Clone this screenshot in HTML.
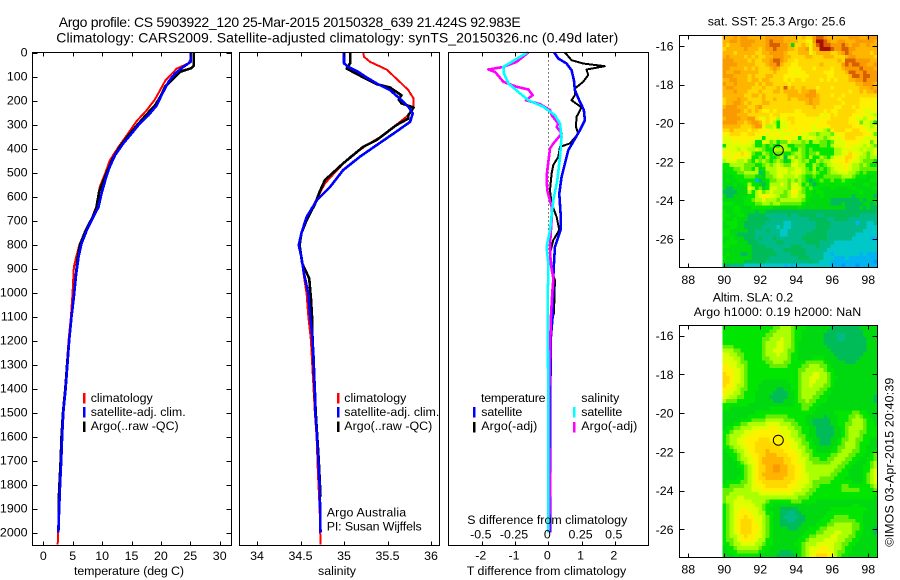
<!DOCTYPE html>
<html lang="en">
<head>
<meta charset="utf-8">
<title>Argo profile CS 5903922_120</title>
<style>
html,body{margin:0;padding:0;background:#fff;}
#chart{display:block;width:900px;height:580px;background:#fff;}
text{font-family:"Liberation Sans",sans-serif;font-size:12.4px;fill:#000;}
.ttl{font-size:14px;}
.mark{shape-rendering:crispEdges;}
</style>
</head>
<body>
<svg id="chart" xmlns="http://www.w3.org/2000/svg" width="900" height="580" viewBox="0 0 900 580">
  <text class="ttl" x="58.7" y="27" textLength="462">Argo profile: CS 5903922_120 25-Mar-2015 20150328_639 21.424S 92.983E</text>
  <text class="ttl" x="56.3" y="42.5" textLength="562">Climatology: CARS2009. Satellite-adjusted climatology: synTS_20150326.nc (0.49d later)</text>

  <g id="layer-maps"></g>
  <g id="layer-panels"></g>
  <g id="layer-axes"></g>

  <text x="74" y="575" textLength="110">temperature (deg C)</text>
  <text x="318" y="575" textLength="38">salinity</text>
  <text x="466.7" y="575" textLength="159.5">T difference from climatology</text>
  <text x="467.3" y="524" textLength="160">S difference from climatology</text>

  <g>
    <rect class="mark" x="83" y="393" width="2.5" height="10.5" fill="#ff0000"/>
    <rect class="mark" x="83" y="407" width="2.5" height="10.5" fill="#0000ff"/>
    <rect class="mark" x="83" y="421.5" width="2.5" height="10.5" fill="#000000"/>
    <text x="90.7" y="402" textLength="62">climatology</text>
    <text x="90.7" y="416" textLength="95">satellite-adj. clim.</text>
    <text x="90.7" y="430" textLength="88">Argo(..raw -QC)</text>
  </g>
  <g>
    <rect class="mark" x="337" y="393" width="2.5" height="10.5" fill="#ff0000"/>
    <rect class="mark" x="337" y="407" width="2.5" height="10.5" fill="#0000ff"/>
    <rect class="mark" x="337" y="421.5" width="2.5" height="10.5" fill="#000000"/>
    <text x="344.3" y="402" textLength="62">climatology</text>
    <text x="344.3" y="416" textLength="95">satellite-adj. clim.</text>
    <text x="344.3" y="430" textLength="88">Argo(..raw -QC)</text>
  </g>
  <text x="326.7" y="516.7" textLength="79.5">Argo Australia</text>
  <text x="326.7" y="530.7" textLength="95">PI: Susan Wijffels</text>

  <g>
    <text x="481" y="402" textLength="64.5">temperature</text>
    <text x="481.3" y="416" textLength="41">satellite</text>
    <text x="481.3" y="430" textLength="56">Argo(-adj)</text>
    <rect class="mark" x="473" y="407" width="2.5" height="10.5" fill="#0000ff"/>
    <rect class="mark" x="473" y="422" width="2.5" height="10.5" fill="#000000"/>
    <text x="581.3" y="402" textLength="38">salinity</text>
    <text x="581.3" y="416" textLength="41">satellite</text>
    <text x="581.3" y="430" textLength="56">Argo(-adj)</text>
    <rect class="mark" x="573" y="407" width="2.5" height="10.5" fill="#00ffff"/>
    <rect class="mark" x="573" y="422" width="2.5" height="10.5" fill="#ff00ff"/>
  </g>

  <text x="707.7" y="25.7" textLength="138">sat. SST: 25.3 Argo: 25.6</text>
  <text x="712.7" y="301.7" textLength="80.5">Altim. SLA: 0.2</text>
  <text x="693.7" y="316" textLength="167.5">Argo h1000: 0.19 h2000: NaN</text>
  <text transform="translate(893.5 546.7) rotate(-90)" x="0" y="0" textLength="169">©IMOS 03-Apr-2015 20:40:39</text>
</svg>

<script>
// ---- axis tick data ----
const depthTicks = [0,100,200,300,400,500,600,700,800,900,1000,1100,1200,1300,1400,1500,1600,1700,1800,1900,2000];
const temperatureTicks = [0,5,10,15,20,25,30];
const salinityTicks = [34,34.5,35,35.5,36];
const salinityTickLabels = ['34','34.5','35','35.5','36'];
const tDiffTicks = [-2,-1,0,1,2];
const sDiffTickLabels = ['-0.5','-0.25','0','0.25','0.5'];
const sDiffTicks = [-0.5,-0.25,0,0.25,0.5];
const lonTicks = [88,90,92,94,96,98];
const latTicks = [-16,-18,-20,-22,-24,-26];

// ---- temperature profile (deg C) ----
const tClimDepth = [0,30,45,67,95,115,155,195,240,285,345,393,450,505,560,643,726,796,851,893,990,1030,1100,1200,1300,1400,1500,1600,1700,1800,1900,2000,2050];
const tClimValue = [25.0,25.0,24.7,22.7,21.6,20.8,19.9,19.0,17.6,15.9,14.2,12.8,11.3,10.5,9.6,9.0,7.7,6.2,5.6,5.2,5.0,4.9,4.7,4.3,4.0,3.7,3.3,3.1,2.95,2.75,2.65,2.5,2.45];
const tSatDepth = [0,39,60,88,122,178,220,261,296,338,379,428,476,518,588,643,685,740,796,851,921,1018,1100,1200,1300,1400,1500,1600,1700,1800,1900,2000];
const tSatValue = [25.07,25.07,23.8,22.4,21.3,20.1,19.3,17.9,16.4,15.0,13.6,12.2,11.3,10.7,9.9,9.4,8.5,7.4,6.5,6.0,5.6,5.2,4.8,4.4,4.1,3.8,3.4,3.2,3.05,2.85,2.7,2.55];
const tArgoDepth = [0,55,65,80,108,143,185,220,257,296,345,393,442,505,580,650,685,747,803,865,962,1018,1100,1200,1300,1400,1500,1600,1700,1800,1850,1990];
const tArgoValue = [25.6,25.6,25.2,23.3,22.1,20.7,19.9,19.0,17.6,16.2,14.5,13.0,11.8,10.7,9.5,9.0,8.4,7.1,6.2,5.8,5.4,5.2,4.8,4.4,4.05,3.75,3.35,3.1,2.95,2.75,2.65,2.6];

// ---- salinity profile (PSU) ----
const sClimDepth = [0,18,39,71,122,157,192,226,261,296,345,386,435,490,546,622,692,754,803,851,935,1004,1100,1200,1400,1500,1600,1750,1900,2050];
const sClimValue = [35.22,35.23,35.3,35.49,35.64,35.74,35.8,35.8,35.74,35.62,35.45,35.26,35.07,34.92,34.78,34.67,34.57,34.51,34.48,34.51,34.54,34.57,34.59,34.62,34.65,34.665,34.685,34.7,34.72,34.73];
const sSatDepth = [0,45,60,80,104,129,157,192,226,254,289,330,386,435,490,560,615,685,754,803,851,921,1004,1053,1115,1157,1253,1365,1448,1500,1600,1700,1800,1900,2000];
const sSatValue = [35.0,35.0,35.05,35.16,35.26,35.375,35.53,35.64,35.74,35.79,35.76,35.6,35.375,35.18,34.99,34.84,34.69,34.57,34.51,34.48,34.51,34.54,34.59,34.60,34.615,34.63,34.648,34.66,34.67,34.67,34.69,34.705,34.72,34.725,34.73];
const sArgoDepth = [0,45,67,90,115,132,146,178,196,212,229,261,275,303,365,393,462,532,580,629,699,754,803,879,941,1025,1115,1157,1300,1500,1700,1850];
const sArgoValue = [35.07,35.07,35.03,35.15,35.28,35.375,35.53,35.66,35.63,35.66,35.8,35.74,35.74,35.6,35.375,35.22,34.99,34.78,34.72,34.67,34.57,34.51,34.49,34.52,34.60,34.62,34.635,34.635,34.65,34.675,34.71,34.73];

// ---- difference from climatology ----
const dtSatDepth = [0,25,46,74,115,157,199,240,282,324,372,407,463,518,588,671,740,810,879,935,1100,1200,1500,1700,2000];
const dtSatValue = [0.18,0.30,0.55,0.70,0.77,0.80,0.93,1.07,1.10,0.95,0.75,0.60,0.50,0.40,0.33,0.37,0.37,0.20,0.17,0.15,0.13,0.07,0.06,0.06,0.05];
const dtArgoDepth = [0,32,46,57,71,94,122,150,178,199,219,229,268,310,338,379,393,435,469,504,574,629,685,740,782,838,907,949,1087,1128,1300,1600,2000];
const dtArgoValue = [0.50,0.70,1.05,1.70,1.15,1.20,1.05,0.80,0.80,0.70,0.90,1.00,0.85,0.83,0.90,0.65,0.35,0.30,0.15,0.10,0.05,0.10,0.25,0.33,0.15,0.05,0.10,0.20,0.17,0.07,0.05,0.03,0.02];
const dsSatDepth = [0,39,60,88,129,164,199,226,261,296,351,435,532,615,740,810,879,942,1000,1500,2000];
const dsSatValue = [-0.158,-0.276,-0.338,-0.333,-0.30,-0.226,-0.15,-0.038,0.05,0.088,0.10,0.088,0.068,0.038,0.013,-0.013,0,0,-0.005,0,0];
const dsArgoDepth = [0,39,60,71,81,122,143,154,178,199,215,240,261,296,310,338,379,400,456,518,574,643,699,754,810,879,942,1000,1100,1200,1500,1700,1800,2000];
const dsArgoValue = [-0.15,-0.238,-0.338,-0.451,-0.40,-0.338,-0.238,-0.15,-0.118,-0.168,-0.063,0.013,0.025,0.075,0.063,0.10,0.038,0.013,0,-0.013,-0.008,0.025,0.025,0.018,0.013,0.018,0.038,0.03,0.02,0.015,0.005,0.01,0.015,0.005];

// ---- colour scale shared by both maps, index = level ----
const levelColors = ['#0098ff','#00b4f0','#00c8c8','#00bb88','#00bc58','#00d810','#00e600','#66ee00','#aaff00','#ddff00','#fff000','#ffd800','#ffb400','#f89a00','#d85f00','#aa1000'];

// ---- satellite SST levels, north to south, 0.2 deg cells from 90E ----
const sstLevels = [
[12,12,12,13,12,13,13,12,12,12,12,12,13,13,13,13,13,12,12,12,12,11,12,11,11,13,14,14,13,12,12,12,12,12,12,13,13,13,12,12,13,13,13],
[12,12,13,13,12,13,13,13,13,12,12,12,13,14,13,13,13,12,12,12,12,11,11,10,10,13,15,15,14,13,12,12,13,13,12,12,12,13,13,13,13,13,12],
[12,11,12,12,12,13,13,13,12,12,12,12,13,14,14,14,13,13,12,5,11,11,12,11,9,12,14,15,14,14,13,13,13,14,13,12,13,13,12,12,13,12,12],
[11,12,12,12,12,12,13,12,12,12,11,12,13,13,14,13,13,13,12,12,11,12,12,13,10,12,12,15,15,15,14,13,13,14,14,13,13,12,12,12,12,12,12],
[12,12,12,11,12,12,12,12,12,11,11,12,12,13,13,13,13,12,11,11,11,12,12,12,9,11,12,12,12,12,11,11,12,13,14,13,12,12,12,12,12,11,12],
[12,13,12,12,12,12,11,12,11,12,11,11,12,12,13,13,13,12,12,11,11,11,11,12,12,11,11,11,12,12,12,11,11,11,12,13,13,12,12,12,12,12,11],
[13,13,13,12,12,12,12,11,12,11,11,12,12,13,14,14,13,12,11,11,10,11,11,11,11,11,11,11,11,11,11,11,12,11,14,14,14,13,13,13,13,12,12],
[13,13,13,13,12,12,12,12,12,11,11,11,12,13,13,14,12,11,11,10,10,11,11,11,11,11,11,12,11,11,11,11,11,13,14,13,14,14,13,13,12,12,13],
[13,13,12,12,12,12,11,12,11,12,11,11,11,12,13,12,11,11,10,10,10,10,11,11,11,10,11,11,11,11,10,11,11,12,13,13,13,13,14,13,13,13,12],
[13,12,12,13,13,12,12,12,12,12,11,11,11,11,12,11,11,11,10,10,9,10,10,11,11,11,11,11,10,10,10,11,11,11,12,14,14,13,13,14,13,13,13],
[13,13,13,12,12,12,12,11,12,11,11,11,12,12,11,11,11,10,10,10,10,10,10,10,11,11,11,11,11,10,10,11,11,11,11,12,14,14,13,14,14,13,13],
[12,12,13,13,12,12,12,11,12,12,11,12,12,11,11,11,11,10,11,10,11,11,10,11,11,11,11,10,11,10,11,10,11,11,11,12,12,13,13,14,13,13,13],
[13,12,12,13,12,12,12,12,12,11,12,11,12,12,11,11,11,11,10,11,11,11,11,11,11,11,11,11,11,11,11,11,11,11,11,11,11,12,12,13,13,13,12],
[12,13,13,12,12,12,12,12,11,11,11,12,11,11,11,12,11,14,11,12,11,11,12,11,11,11,10,11,11,11,10,11,11,11,11,11,11,11,12,12,12,13,12],
[12,12,12,13,12,12,12,11,11,11,12,11,11,11,12,12,11,12,12,12,12,11,12,12,13,13,11,11,11,11,11,11,11,11,11,10,11,11,12,11,12,12,13],
[12,12,12,12,12,12,11,11,12,12,11,12,11,11,11,11,11,11,12,12,12,12,12,13,13,13,12,11,11,11,10,11,11,10,11,11,11,11,11,11,11,11,11],
[11,12,12,12,13,12,12,11,11,11,11,12,11,11,12,11,11,11,12,11,11,12,12,12,13,12,12,11,11,11,11,11,10,11,11,11,11,11,10,10,10,10,10],
[11,12,12,13,13,12,11,12,11,11,11,12,12,11,11,11,11,11,11,11,11,11,11,12,13,12,12,11,11,11,11,11,11,10,11,11,11,11,10,10,10,10,9],
[12,13,13,13,12,12,12,11,11,12,13,11,11,11,11,11,11,11,11,11,11,11,11,11,11,12,11,11,11,11,11,10,10,11,11,11,10,11,10,10,10,10,10],
[13,13,13,13,13,12,11,12,11,12,11,10,10,11,10,11,11,11,11,11,10,10,11,11,11,11,11,11,10,11,10,10,11,11,11,11,11,10,10,9,9,9,10],
[13,13,13,13,12,12,12,11,11,11,11,11,11,10,11,11,10,10,10,10,10,10,10,11,11,11,11,10,9,10,11,10,11,11,11,11,10,10,10,10,9,9,8],
[12,13,13,13,13,12,12,13,13,11,10,9,11,10,10,8,10,10,11,11,10,10,10,10,10,10,9,10,10,10,11,11,11,11,11,10,10,9,9,8,9,10,9],
[13,13,13,13,12,12,11,12,13,13,12,10,11,10,8,6,9,9,10,11,10,10,10,10,10,10,10,10,10,11,11,11,11,11,11,10,10,10,7,9,9,8,6],
[12,12,12,12,12,11,11,11,12,13,13,10,8,8,9,6,9,9,10,10,10,10,10,10,10,9,10,10,10,10,11,11,11,11,11,11,10,10,10,9,9,8,9],
[11,11,12,11,11,11,11,10,11,11,10,10,10,9,9,9,9,10,10,10,10,10,10,10,10,9,9,9,8,7,10,11,11,11,10,10,11,11,10,10,9,9,9],
[10,10,11,11,11,10,10,11,11,10,10,10,9,10,10,10,9,9,9,10,10,10,9,9,8,8,7,8,8,8,7,9,10,10,11,11,11,11,11,10,10,9,7],
[9,9,10,10,10,10,10,10,10,9,9,6,9,9,9,9,9,10,10,9,9,6,9,9,9,9,8,8,7,8,9,9,9,10,11,11,11,10,10,9,9,9,9],
[9,9,9,10,9,10,10,9,9,6,6,9,9,7,8,6,7,7,9,8,8,8,7,8,6,8,8,7,7,6,7,9,9,9,10,10,10,10,9,9,9,7,9],
[6,9,9,9,9,9,9,9,8,6,6,7,6,7,6,6,8,8,6,6,7,7,7,6,6,6,6,7,7,6,8,9,9,9,10,10,9,9,9,8,9,8,7],
[9,9,9,9,8,9,9,8,8,9,8,7,6,6,8,8,8,8,8,6,6,8,7,6,7,6,6,6,6,6,6,8,8,9,9,9,9,9,8,9,8,8,9],
[10,10,9,9,10,11,10,9,7,6,6,8,7,6,7,7,7,6,6,7,8,8,7,6,7,7,8,6,6,6,6,8,8,9,10,11,10,9,9,8,7,8,9],
[9,9,10,10,10,9,9,9,6,6,7,6,8,6,6,7,8,4,8,9,7,8,7,6,8,6,6,8,7,6,8,9,9,10,11,11,10,9,8,8,7,8,8],
[8,9,9,9,8,8,9,7,6,8,7,8,7,6,7,8,7,5,6,8,9,8,7,8,6,6,8,7,8,8,9,10,10,10,11,10,9,9,8,7,7,7,6],
[6,6,8,8,8,8,7,7,7,6,6,7,8,7,8,9,8,7,7,9,9,8,8,6,6,8,7,6,7,8,9,9,9,10,10,9,8,8,7,8,7,6,6],
[6,6,6,7,7,8,7,7,6,8,5,6,8,8,8,9,9,9,8,8,9,9,8,7,6,8,6,7,6,7,8,9,9,9,10,9,8,8,7,7,7,7,7],
[5,6,6,6,7,7,8,8,8,8,3,5,7,8,8,9,9,9,8,9,9,9,8,7,7,8,7,6,6,7,8,8,9,9,9,8,8,7,6,7,6,6,6],
[5,5,5,6,6,6,7,7,7,6,6,5,7,7,8,9,9,8,8,8,9,8,7,6,6,7,6,6,7,7,7,7,7,8,8,8,7,6,6,6,5,5,6],
[5,6,5,5,6,6,6,6,6,1,4,5,6,7,7,8,8,8,7,8,7,8,7,6,4,5,6,7,6,6,7,6,6,7,6,6,6,5,5,5,5,6,6],
[5,5,5,6,5,5,6,8,6,6,5,4,6,8,8,8,9,8,7,9,9,8,6,7,6,4,5,6,6,6,5,6,6,6,6,6,5,5,5,6,6,5,5],
[5,4,4,5,5,5,5,9,8,6,7,5,6,9,9,8,8,8,7,9,9,9,7,6,7,6,6,5,5,5,6,5,5,5,5,5,6,5,5,5,5,5,6],
[4,4,4,4,5,5,5,8,6,8,9,7,8,9,8,8,8,7,8,10,10,8,7,6,6,5,6,6,5,5,5,5,5,5,5,5,5,5,6,5,5,5,5],
[5,4,4,5,5,5,5,6,6,8,9,10,10,9,9,8,7,7,8,9,9,8,8,6,6,5,5,6,5,5,5,5,5,5,5,5,4,5,5,5,5,5,4],
[5,5,5,5,5,5,6,6,7,8,8,9,8,8,8,7,8,8,8,8,8,8,7,6,5,5,5,5,5,5,4,4,4,4,4,4,4,4,5,4,5,5,5],
[6,6,6,5,5,5,6,6,6,7,7,8,8,7,8,8,7,7,7,7,7,7,6,5,5,5,5,5,5,5,4,4,4,5,4,4,4,4,4,5,5,4,5],
[5,5,5,6,6,5,5,5,6,6,6,6,6,6,5,5,5,5,5,5,5,6,5,5,5,5,5,5,5,5,5,5,5,5,4,4,4,4,5,4,5,4,4],
[6,5,5,6,6,5,5,5,5,4,5,5,4,4,4,4,4,4,4,4,4,4,4,4,4,4,4,4,4,4,4,4,4,4,4,4,4,4,4,4,4,4,4],
[6,6,5,5,6,6,5,4,4,4,4,4,3,3,3,3,3,3,4,3,3,4,4,4,4,4,3,3,4,4,4,4,4,4,4,4,4,4,3,3,3,3,3],
[6,5,5,6,5,5,5,4,4,4,4,4,4,3,3,3,3,3,3,3,3,3,3,3,4,4,4,4,4,3,3,4,4,4,4,3,3,3,3,3,3,3,3],
[5,6,6,6,5,5,4,4,4,4,4,4,3,3,3,3,3,2,2,3,3,3,3,3,3,3,4,4,4,4,3,3,3,3,3,3,3,1,3,3,2,2,3],
[5,5,6,6,5,5,4,4,4,4,4,3,3,3,3,2,3,2,2,3,3,3,3,3,3,3,4,4,4,4,3,3,3,3,3,3,3,3,3,3,2,2,2],
[6,6,5,5,5,5,5,4,4,3,3,3,4,3,3,3,2,2,3,3,3,3,3,3,3,4,4,4,4,3,3,3,3,3,3,3,3,3,3,2,2,2,2],
[6,6,5,5,4,4,4,4,4,3,3,3,3,3,3,3,2,2,3,3,3,3,3,4,4,4,4,4,4,3,3,3,3,3,3,3,3,2,2,2,2,2,2],
[5,5,6,5,5,5,4,4,4,3,4,3,3,3,4,3,3,3,3,3,3,3,4,4,4,4,4,4,4,3,3,3,3,3,3,3,2,2,2,2,2,1,1],
[5,6,6,6,5,5,5,4,4,4,3,3,3,3,3,4,4,3,3,3,3,3,3,4,4,4,4,3,3,3,3,2,2,2,2,2,2,2,2,2,2,2,2],
[6,6,5,5,5,5,5,5,4,4,4,4,3,3,3,3,3,3,3,4,4,4,3,3,3,3,4,3,3,3,2,2,2,2,2,2,2,2,2,2,2,2,2],
[5,5,5,5,5,5,5,5,4,4,4,4,4,4,3,3,3,4,4,4,4,4,4,3,3,3,3,3,3,2,2,2,2,2,2,2,2,2,2,2,2,2,2],
[5,6,5,5,5,4,4,5,4,4,4,4,4,4,4,3,3,3,3,4,4,4,4,3,3,3,3,3,2,2,1,2,2,2,2,2,2,2,1,2,1,1,1],
[6,5,5,5,5,5,5,5,4,4,4,4,4,3,3,3,3,3,3,3,3,4,4,4,3,3,3,3,2,2,2,1,1,1,2,1,1,1,1,1,1,1,1],
[5,5,5,5,5,5,4,4,4,4,4,4,3,3,3,3,3,3,3,3,3,3,3,3,4,3,3,2,2,2,1,1,1,1,1,1,1,1,1,1,1,1,0],
[4,4,3,3,3,3,2,2,2,2,2,2,2,2,2,2,2,1,2,1,2,2,2,2,2,2,2,2,2,2,1,1,1,0,1,1,1,0,1,1,1,1,1]
];

// ---- altimetric SLA levels, north to south, 0.2 deg cells from 90E ----
const slaLevels = [
[6,6,6,6,6,6,6,6,6,6,6,6,6,6,7,7,8,8,8,7,6,6,6,5,5,5,5,5,5,5,4,4,4,4,4,4,4,4,5,5,5,5,5],
[6,6,6,6,6,6,6,6,6,6,6,6,6,7,7,8,8,8,8,7,6,6,5,5,5,5,5,5,5,4,4,4,4,4,4,4,4,4,4,5,5,5,5],
[6,6,6,6,6,6,6,6,6,6,6,6,7,7,8,8,8,8,8,7,6,6,5,5,5,5,5,5,4,4,4,4,3,3,4,4,4,4,4,5,5,5,5],
[6,6,6,6,6,6,6,6,6,6,6,7,7,8,8,8,9,8,8,7,6,6,5,5,5,5,5,5,4,4,4,4,3,3,4,4,4,4,4,4,5,5,5],
[6,6,6,6,6,6,6,6,6,6,6,7,8,8,8,9,9,8,8,7,6,5,5,5,5,5,5,5,4,4,4,4,4,4,4,4,4,4,4,4,5,5,5],
[7,7,7,6,6,6,6,6,6,6,6,7,8,8,8,9,9,8,8,7,6,5,5,5,5,5,5,5,5,4,4,4,4,4,4,4,4,4,4,4,5,5,5],
[8,8,8,7,7,6,6,6,6,6,6,7,8,8,9,9,9,8,7,7,6,5,5,5,5,5,5,5,5,5,4,4,4,4,4,4,4,4,4,4,5,5,5],
[9,9,8,8,7,7,6,6,6,6,6,7,8,8,8,9,8,8,7,6,6,5,5,5,5,5,5,5,5,5,5,4,4,4,4,4,4,4,4,5,5,5,5],
[9,9,9,8,8,7,6,6,6,6,6,7,7,8,8,8,8,8,7,6,6,5,5,5,5,6,6,6,5,5,5,5,4,4,4,4,4,4,5,5,5,5,5],
[9,9,9,9,8,7,7,6,6,6,6,6,7,7,8,8,8,7,7,6,6,6,6,7,7,7,7,7,6,5,5,5,5,5,4,4,4,5,5,5,5,5,5],
[10,10,9,9,8,8,7,6,6,6,6,6,6,7,7,7,7,7,6,6,6,6,7,7,8,8,8,7,7,6,5,5,5,5,5,5,5,5,5,5,5,5,5],
[10,10,10,9,9,8,7,6,6,6,6,6,6,6,6,6,6,6,6,6,6,7,7,8,8,8,8,8,7,6,6,5,5,5,5,5,5,5,5,5,5,5,5],
[11,10,10,9,9,8,7,6,6,6,6,6,6,6,6,6,6,6,6,6,6,7,8,8,8,9,9,8,8,7,6,5,5,5,5,5,5,5,5,5,5,5,5],
[11,11,10,9,9,8,7,6,6,6,6,6,6,6,6,6,6,6,6,6,6,7,8,8,9,9,9,8,8,7,6,6,5,5,5,5,5,5,5,5,5,5,5],
[11,11,10,9,9,8,7,6,6,6,6,5,5,5,5,5,5,5,6,6,6,7,8,8,9,9,8,8,8,7,6,5,5,5,5,5,5,5,5,5,5,5,5],
[11,10,10,9,8,8,7,6,6,6,5,5,5,5,5,5,5,5,5,6,6,7,8,8,9,8,8,8,7,7,6,5,5,5,5,5,5,5,5,5,5,5,5],
[10,10,9,9,8,7,7,6,6,6,5,5,5,5,5,4,4,5,5,6,6,7,8,8,8,8,8,7,7,6,5,5,5,5,5,5,5,5,5,5,5,5,5],
[10,9,9,8,8,7,6,6,6,5,5,5,5,5,4,4,4,4,5,5,6,7,8,8,8,8,7,7,6,6,5,5,5,5,5,5,5,5,5,5,5,5,5],
[9,9,8,8,7,7,6,6,6,5,5,5,5,4,4,4,4,4,5,5,6,7,8,8,8,7,7,6,6,5,5,5,5,5,5,5,5,5,5,5,5,5,4],
[8,7,7,7,6,6,6,6,6,5,5,5,5,5,4,4,4,5,5,5,6,7,7,8,7,7,6,6,6,5,5,5,5,5,5,5,5,5,5,5,5,5,4],
[6,6,6,6,6,6,6,5,5,5,5,5,5,5,5,5,5,5,5,5,6,6,7,7,7,6,6,5,5,5,5,5,5,5,5,5,5,5,5,5,5,5,5],
[6,6,5,5,5,5,5,5,5,5,5,5,5,6,6,6,6,6,6,6,6,6,7,7,6,6,5,5,5,5,5,5,5,5,5,5,5,5,5,5,5,5,5],
[5,5,5,5,5,5,5,5,5,6,6,6,6,6,6,6,6,6,6,6,6,6,6,6,6,5,5,5,5,5,5,6,6,6,6,6,7,7,6,6,5,5,5],
[5,5,5,5,5,5,5,6,6,6,6,6,7,7,7,7,7,7,6,6,6,6,6,5,5,5,5,5,4,5,5,5,6,6,6,7,7,8,7,6,6,5,5],
[5,5,5,5,5,6,6,6,7,7,7,7,8,8,8,8,8,7,7,7,6,6,6,5,5,4,4,4,4,4,5,5,6,6,6,7,8,8,8,7,6,6,5],
[5,5,5,6,6,7,7,8,8,8,8,8,9,9,9,9,8,8,8,7,7,6,6,5,5,4,4,4,4,4,5,5,6,6,7,7,8,8,8,7,6,6,5],
[5,6,6,7,7,8,8,8,9,9,9,9,9,10,10,9,9,9,8,8,7,7,6,6,5,5,4,4,4,4,4,5,5,6,7,8,8,8,8,7,6,6,6],
[6,6,7,8,8,8,9,9,9,10,10,10,10,10,10,10,9,9,9,8,8,7,6,6,5,5,4,4,4,4,4,5,5,6,7,8,8,8,7,7,6,6,6],
[6,7,8,8,8,9,9,10,10,10,10,10,10,10,10,10,10,9,9,8,8,7,7,6,5,5,4,4,4,4,4,5,5,6,7,8,8,8,7,6,6,6,6],
[6,7,8,8,9,9,10,10,10,10,11,11,11,10,10,10,10,10,9,9,8,8,7,6,6,5,5,4,4,4,5,5,6,7,7,8,8,7,7,6,6,5,5],
[6,7,8,8,9,9,10,10,10,11,11,11,11,11,10,10,10,10,10,9,9,8,7,7,6,5,5,4,4,4,5,5,6,7,8,8,8,7,6,6,6,5,5],
[6,6,7,8,8,9,9,10,10,11,11,11,11,11,11,11,10,10,10,9,9,8,8,7,6,6,5,5,5,5,5,6,7,7,8,8,8,7,6,6,5,5,5],
[5,6,6,7,8,8,9,10,10,11,11,11,12,11,11,11,11,10,10,10,9,9,8,7,7,6,5,5,5,5,6,6,7,8,8,8,7,7,6,6,5,5,6],
[5,5,6,6,7,8,9,9,10,10,11,11,12,12,12,11,11,11,10,10,10,9,8,8,7,6,6,6,6,6,7,7,8,8,8,7,7,6,6,5,5,6,7],
[5,5,5,6,7,8,8,9,10,10,11,12,12,12,12,12,12,11,11,10,10,9,9,8,7,7,7,6,6,7,7,8,8,8,7,7,6,6,5,5,6,6,7],
[5,5,5,5,6,7,8,9,9,10,11,12,12,12,12,12,12,11,11,10,10,9,9,8,8,7,7,7,7,7,8,8,8,7,7,6,6,5,5,5,6,7,8],
[5,5,5,5,6,6,7,8,9,10,11,11,12,12,13,13,12,12,11,11,10,10,9,8,8,8,8,8,8,8,8,8,7,7,6,6,5,5,5,6,6,7,8],
[5,5,5,5,5,6,7,8,9,10,11,11,12,12,13,13,12,12,11,11,10,10,9,8,8,8,8,8,8,8,8,7,7,6,6,5,5,5,5,6,6,8,9],
[5,5,5,5,5,6,7,8,9,10,11,12,12,12,12,12,12,12,11,11,10,10,9,9,8,8,8,8,8,8,7,7,6,6,6,5,5,5,5,6,7,8,9],
[5,5,5,5,6,6,7,8,9,10,11,11,12,12,12,12,12,11,11,11,10,10,9,9,8,8,8,7,7,7,7,6,6,6,5,5,5,5,5,6,7,8,9],
[5,6,6,6,6,7,7,8,9,10,10,11,11,11,11,11,11,11,11,10,10,9,9,9,8,7,7,7,7,7,6,6,6,6,6,6,5,5,5,6,7,8,9],
[6,6,7,7,7,7,8,8,9,10,10,10,11,11,11,11,11,11,10,10,10,9,9,8,8,7,7,6,6,6,6,6,6,7,7,6,6,6,6,6,6,7,8],
[7,7,7,8,8,8,8,8,9,9,9,10,10,10,10,10,10,10,10,9,9,9,8,8,7,7,6,6,6,6,6,6,6,7,7,7,7,7,6,6,6,6,7],
[7,7,8,8,8,8,8,8,8,8,9,9,9,9,9,9,9,9,9,9,8,8,8,7,7,6,6,6,6,6,6,6,6,6,6,6,6,6,6,6,6,6,6],
[7,8,8,8,9,9,8,8,8,8,8,8,8,8,8,8,8,8,8,8,8,7,7,7,6,6,6,6,6,6,6,6,6,6,6,6,6,6,6,6,6,6,5],
[7,8,8,9,9,9,9,9,8,8,8,8,7,6,6,6,6,6,6,7,7,7,6,6,6,6,5,5,5,5,5,5,5,5,5,5,5,5,5,5,5,5,5],
[6,7,8,9,9,9,9,9,9,8,8,7,6,6,5,5,5,5,5,5,5,5,5,5,5,5,5,5,5,5,5,5,5,5,5,5,6,6,5,5,5,5,5],
[6,7,8,9,9,10,10,9,9,9,8,7,6,5,5,5,4,4,4,4,4,5,5,5,5,5,5,5,5,5,6,6,6,6,6,6,6,6,6,6,5,5,5],
[6,7,8,9,10,10,10,10,9,9,8,8,6,6,5,5,4,4,3,3,4,4,5,5,5,5,5,5,5,6,6,6,6,6,6,6,6,6,6,5,5,5,5],
[6,7,8,9,10,10,11,10,10,9,9,8,7,6,5,5,4,3,3,3,3,4,4,5,5,5,5,5,6,6,6,7,7,7,7,6,6,6,6,5,5,5,5],
[6,7,8,9,10,11,11,11,10,9,9,8,7,6,5,5,4,4,3,3,4,4,4,5,5,5,5,6,6,6,7,7,7,7,7,7,7,6,6,5,5,5,5],
[6,7,8,9,10,11,11,11,10,10,9,8,7,6,5,5,4,4,4,4,4,4,5,5,5,5,6,6,6,7,7,8,8,8,8,8,7,7,6,5,5,5,5],
[6,7,8,9,10,11,11,11,10,10,9,8,7,6,5,5,5,5,4,4,4,5,5,5,6,6,6,7,7,8,8,8,8,8,8,8,7,7,6,5,5,5,4],
[6,7,8,9,10,11,11,11,10,10,9,8,7,6,5,5,5,5,5,5,5,5,5,6,6,6,7,7,8,8,8,9,9,8,8,8,7,6,6,5,5,5,4],
[6,7,8,8,9,10,11,10,10,9,9,8,7,6,5,5,5,5,5,5,5,5,6,6,7,7,8,8,8,8,9,9,8,8,8,7,7,6,5,5,5,5,5],
[6,7,7,8,9,10,10,10,10,9,8,8,6,6,5,5,5,5,5,5,5,6,6,7,8,8,8,8,9,9,9,9,8,8,7,7,6,6,5,5,5,5,5],
[6,6,7,8,8,9,9,9,9,8,8,7,6,6,5,5,5,5,5,5,6,6,7,8,8,8,9,9,9,9,9,8,8,7,7,6,6,5,5,5,5,5,5],
[5,6,6,7,8,8,8,8,8,8,7,6,6,5,5,5,5,5,5,5,5,6,7,8,9,9,9,10,10,9,9,8,8,7,6,6,5,5,5,5,5,5,5],
[5,5,6,6,7,7,7,7,7,7,6,6,5,5,5,5,4,4,4,5,5,6,7,8,9,9,10,10,10,10,9,8,7,7,6,6,5,5,5,5,5,5,5],
[5,5,5,6,6,6,6,6,6,6,5,5,5,5,5,4,4,4,4,4,5,6,7,8,9,10,11,11,11,10,9,8,7,6,6,5,5,5,5,5,5,5,5]
];
const sstCellDeg = 0.2;
const slaCellDeg = 0.2;
const argoLon = 93;
const argoLat = -21.4;

const SVG_NS = 'http://www.w3.org/2000/svg';
const mapLayer = document.getElementById('layer-maps');
const panelLayer = document.getElementById('layer-panels');
const axisLayer = document.getElementById('layer-axes');

const depthY = d => 52.5 + 0.24 * d;
const tempX = v => 43.3 + 5.88 * v;
const salX = v => 257 + 87 * (v - 34);
const dtX = v => 548.3 + 33.25 * v;
const dsX = v => 548.3 + 133 * v;
const lonX = lon => 688.3 + 18 * (lon - 88);
const sstLatY = lat => 46 - 19.3 * (lat + 16);
const slaLatY = lat => 335.7 - 19.36 * (lat + 16);

function drawLine(xs, ds, scale, color, width, name) {
  const el = document.createElementNS(SVG_NS, 'polyline');
  
  
  el.setAttribute('points', xs.map((v, i) => scale(v).toFixed(2) + ',' + depthY(ds[i]).toFixed(2)).join(' '));
  el.setAttribute('fill', 'none');
  el.setAttribute('stroke', color);
  el.setAttribute('stroke-width', width);
  el.setAttribute('stroke-linejoin', 'round');
  el.setAttribute('shape-rendering', 'crispEdges');
  panelLayer.appendChild(el);
}

function drawTick(x1, y1, x2, y2) {
  const el = document.createElementNS(SVG_NS, 'line');
  
  
  el.setAttribute('x1', x1);
  el.setAttribute('y1', y1);
  el.setAttribute('x2', x2);
  el.setAttribute('y2', y2);
  el.setAttribute('stroke', '#000');
  el.setAttribute('stroke-width', 1);
  el.setAttribute('shape-rendering', 'crispEdges');
  axisLayer.appendChild(el);
}

function drawLabel(x, y, str, anchor) {
  const el = document.createElementNS(SVG_NS, 'text');
  
  
  el.setAttribute('x', x);
  el.setAttribute('y', y);
  el.setAttribute('text-anchor', anchor);
  el.textContent = str;
  axisLayer.appendChild(el);
}

function drawBox(x0, y0, x1, y1) {
  const el = document.createElementNS(SVG_NS, 'rect');
  
  
  el.setAttribute('x', x0);
  el.setAttribute('y', y0);
  el.setAttribute('width', x1 - x0);
  el.setAttribute('height', y1 - y0);
  el.setAttribute('fill', 'none');
  el.setAttribute('stroke', '#000');
  el.setAttribute('stroke-width', 1);
  el.setAttribute('shape-rendering', 'crispEdges');
  axisLayer.appendChild(el);
}

function drawCells(levels, cellDeg, top, bottom) {
  const west = 89.9;
  const east = 98.5;
  levels.forEach((row, r) => {
    const y0 = top + (bottom - top) * r / levels.length;
    const y1 = top + (bottom - top) * (r + 1) / levels.length;
    row.forEach((level, c) => {
      const x0 = lonX(west + cellDeg * c);
      const x1 = Math.min(lonX(west + cellDeg * (c + 1)), lonX(east));
      if (x1 <= x0) return;
      const el = document.createElementNS(SVG_NS, 'rect');
      
      
      el.setAttribute('x', x0.toFixed(2));
      el.setAttribute('y', y0.toFixed(2));
      el.setAttribute('width', (x1 - x0 + 0.4).toFixed(2));
      el.setAttribute('height', (y1 - y0 + 0.4).toFixed(2));
      el.setAttribute('fill', levelColors[level]);
      el.setAttribute('shape-rendering', 'crispEdges');
      mapLayer.appendChild(el);
    });
  });
}

function drawMarker(latY) {
  const el = document.createElementNS(SVG_NS, 'circle');
  
  
  el.setAttribute('cx', lonX(argoLon));
  el.setAttribute('cy', latY(argoLat));
  el.setAttribute('r', 5);
  el.setAttribute('fill', 'none');
  el.setAttribute('stroke', '#000');
  el.setAttribute('stroke-width', 1);
  axisLayer.appendChild(el);
}

function drawMapAxes(top, bottom, latY, labelY) {
  drawBox(679.5, top, 877.5, bottom);
  lonTicks.forEach(lon => {
    const x = Math.round(lonX(lon)) + 0.5;
    drawTick(x, top, x, top + 4);
    drawTick(x, bottom, x, bottom - 4);
    drawLabel(lonX(lon), labelY, String(lon), 'middle');
  });
  latTicks.forEach(lat => {
    const y = Math.round(latY(lat)) + 0.5;
    drawTick(679.5, y, 684.5, y);
    drawTick(877.5, y, 872.5, y);
    drawLabel(673.5, latY(lat) + 4.5, String(lat), 'end');
  });
}

// maps
drawCells(sstLevels, sstCellDeg, 35.5, 267.5);
drawCells(slaLevels, slaCellDeg, 325.5, 557.5);
drawMapAxes(35.5, 267.5, sstLatY, 284);
drawMapAxes(325.5, 557.5, slaLatY, 573.7);
drawMarker(sstLatY);
drawMarker(slaLatY);

// zero reference in the difference panel
const zeroLine = document.createElementNS(SVG_NS, 'line');


zeroLine.setAttribute('x1', dtX(0));
zeroLine.setAttribute('x2', dtX(0));
zeroLine.setAttribute('y1', depthY(0));
zeroLine.setAttribute('y2', depthY(2000));
zeroLine.setAttribute('stroke', '#000');
zeroLine.setAttribute('stroke-width', 1);
zeroLine.setAttribute('stroke-dasharray', '1 3');
zeroLine.setAttribute('shape-rendering', 'crispEdges');
panelLayer.appendChild(zeroLine);

// temperature panel
drawLine(tClimValue, tClimDepth, tempX, '#ff0000', 2, 'temperature-climatology-line');
drawLine(tArgoValue, tArgoDepth, tempX, '#000000', 2.6, 'temperature-argo-line');
drawLine(tSatValue, tSatDepth, tempX, '#0000ff', 2.6, 'temperature-satellite-line');

// salinity panel
drawLine(sClimValue, sClimDepth, salX, '#ff0000', 2, 'salinity-climatology-line');
drawLine(sArgoValue, sArgoDepth, salX, '#000000', 2.6, 'salinity-argo-line');
drawLine(sSatValue, sSatDepth, salX, '#0000ff', 2.6, 'salinity-satellite-line');

// difference panel
drawLine(dtArgoValue, dtArgoDepth, dtX, '#000000', 2, 'temperature-argo-difference-line');
drawLine(dtSatValue, dtSatDepth, dtX, '#0000ff', 2.6, 'temperature-satellite-difference-line');
drawLine(dsArgoValue, dsArgoDepth, dsX, '#ff00ff', 2.6, 'salinity-argo-difference-line');
drawLine(dsSatValue, dsSatDepth, dsX, '#00ffff', 2.6, 'salinity-satellite-difference-line');

// profile panel frames and ticks
const panelTop = 52.5;
const panelBottom = 545.5;
drawBox(32.5, panelTop, 231.5, panelBottom);
drawBox(239.5, panelTop, 439.5, panelBottom);
drawBox(448.5, panelTop, 648.5, panelBottom);

depthTicks.forEach(d => {
  const y = Math.round(depthY(d)) + 0.5;
  drawTick(32.5, y, 37.5, y);
  drawTick(231.5, y, 226.5, y);
  drawLabel(27.5, depthY(d) + 4, String(d), 'end');
});
temperatureTicks.forEach(v => {
  const x = Math.round(tempX(v)) + 0.5;
  drawTick(x, panelTop, x, panelTop + 4);
  drawTick(x, panelBottom, x, panelBottom - 4);
  drawLabel(tempX(v), 560, String(v), 'middle');
});
salinityTicks.forEach((v, i) => {
  const x = Math.round(salX(v)) + 0.5;
  drawTick(x, panelTop, x, panelTop + 4);
  drawTick(x, panelBottom, x, panelBottom - 4);
  drawLabel(salX(v), 560, salinityTickLabels[i], 'middle');
});
tDiffTicks.forEach(v => {
  const x = Math.round(dtX(v)) + 0.5;
  drawTick(x, panelTop, x, panelTop + 4);
  drawTick(x, panelBottom, x, panelBottom - 4);
  drawLabel(dtX(v) - 1, 559.5, String(v), 'middle');
});
sDiffTicks.forEach((v, i) => {
  drawLabel(dsX(v) - 1, 538.7, sDiffTickLabels[i], 'middle');
});
</script>
</body>
</html>
